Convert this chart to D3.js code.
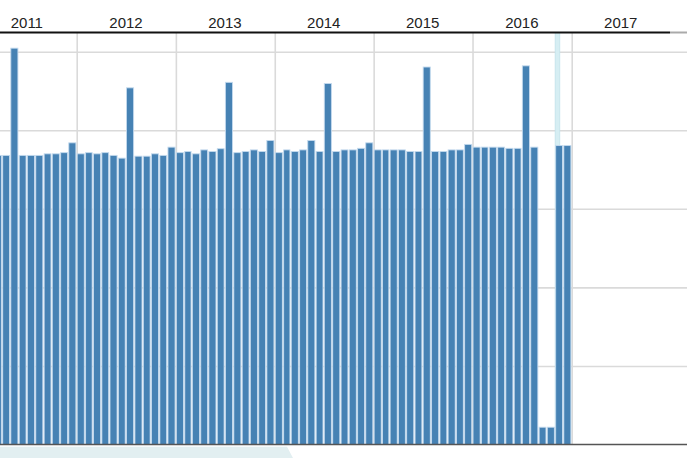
<!DOCTYPE html>
<html><head><meta charset="utf-8">
<script src="https://cdn.jsdelivr.net/npm/d3@7"></script>
<style>html,body{margin:0;padding:0;background:#fff;overflow:hidden}</style>
</head><body><svg id="c" width="687" height="458"></svg>
<script>
// ---- data ----
const months = [
  "2011-03","2011-04","2011-05","2011-06","2011-07","2011-08","2011-09","2011-10","2011-11","2011-12",
  "2012-01","2012-02","2012-03","2012-04","2012-05","2012-06","2012-07","2012-08","2012-09","2012-10","2012-11","2012-12",
  "2013-01","2013-02","2013-03","2013-04","2013-05","2013-06","2013-07","2013-08","2013-09","2013-10","2013-11","2013-12",
  "2014-01","2014-02","2014-03","2014-04","2014-05","2014-06","2014-07","2014-08","2014-09","2014-10","2014-11","2014-12",
  "2015-01","2015-02","2015-03","2015-04","2015-05","2015-06","2015-07","2015-08","2015-09","2015-10","2015-11","2015-12",
  "2016-01","2016-02","2016-03","2016-04","2016-05","2016-06","2016-07","2016-08","2016-09","2016-10","2016-11","2016-12"
];
const values = [
  73.6, 73.6, 100.9, 73.6, 73.6, 73.6, 74.0, 74.0, 74.3, 76.8,
  74.0, 74.3, 74.0, 74.3, 73.6, 72.9, 90.8, 73.4, 73.4, 74.0, 73.6, 75.7,
  74.3, 74.6, 74.0, 75.0, 74.6, 75.3, 92.2, 74.3, 74.6, 75.0, 74.6, 77.4,
  74.3, 75.0, 74.6, 75.0, 77.4, 74.6, 91.9, 74.6, 75.0, 75.0, 75.4, 76.8,
  75.0, 75.0, 75.0, 75.0, 74.6, 74.6, 96.1, 74.6, 74.6, 75.0, 75.0, 76.4,
  75.7, 75.7, 75.7, 75.7, 75.4, 75.4, 96.4, 75.7, 4.4, 4.4, 76.1, 76.1
];
const yearLabels = ["2011","2012","2013","2014","2015","2016","2017"];
const yTicks = [0, 20, 40, 60, 80, 100];
const highlightRange = ["2016-11-01", "2016-11-18"];

// ---- layout ----
const W = 687, H = 458;
const plotTop = 32.5, plotBottom = 444.5, plotRight = 670;
const parseMonth = d3.utcParse("%Y-%m");
const parseDay = d3.utcParse("%Y-%m-%d");

const x = d3.scaleUtc()
  .domain([new Date(Date.UTC(2012,0,1)), new Date(Date.UTC(2017,0,1))])
  .range([76.7, 571.7]);
const y = d3.scaleLinear().domain([0, 100]).range([plotBottom, 51.7]);

const svg = d3.select("#c");
const defs = svg.append("defs");
defs.append("clipPath").attr("id","clip").append("rect")
  .attr("x",0).attr("y",plotTop).attr("width",W).attr("height",plotBottom-plotTop);

// bottom navigator band
svg.append("path")
  .attr("d", `M0,446.7 L287,446.7 L293,${H} L0,${H} Z`)
  .attr("fill", "#e2eff1");

const g = svg.append("g").attr("clip-path","url(#clip)");

// horizontal grid
const yAxis = d3.axisLeft(y).tickValues(yTicks).tickSize(-W).tickFormat("");
g.append("g").call(yAxis)
  .call(s => s.select(".domain").remove())
  .call(s => s.selectAll("line").attr("stroke","#dadada").attr("stroke-width",1.6));

// vertical year grid
const years = d3.utcYear.range(new Date(Date.UTC(2011,0,1)), new Date(Date.UTC(2018,0,1)));
const xGrid = d3.axisBottom(x).tickValues(years.filter(d => x(d) < plotRight - 5)).tickSize(-(plotBottom-plotTop)).tickFormat("");
g.append("g").attr("transform",`translate(0,${plotBottom})`).call(xGrid)
  .call(s => s.select(".domain").remove())
  .call(s => s.selectAll("line").attr("stroke","#dadada").attr("stroke-width",1.6));

// highlight band
const h0 = parseDay(highlightRange[0]), h1 = parseDay(highlightRange[1]);
g.append("rect")
  .attr("x", x(h0)).attr("y", plotTop)
  .attr("width", x(h1) - x(h0)).attr("height", plotBottom - plotTop)
  .attr("fill", "#d6eef3").attr("stroke", "#c2e2ea").attr("stroke-width", 0.8);

// bars
const data = months.map((m, i) => ({ d: parseMonth(m), v: values[i] }));
g.selectAll("rect.bar").data(data).join("rect")
  .attr("class","bar")
  .attr("x", d => x(d.d) + 0.5)
  .attr("width", d => x(d3.utcMonth.offset(d.d, 1)) - x(d.d) - 1.3)
  .attr("y", d => y(d.v))
  .attr("height", d => plotBottom - y(d.v))
  .attr("fill", "#4682b4")
  .attr("stroke", "#c4daee")
  .attr("stroke-width", 0.9);

// axis lines
svg.append("line").attr("x1",0).attr("x2",plotRight).attr("y1",plotTop).attr("y2",plotTop)
  .attr("stroke","#111").attr("stroke-width",2);
svg.append("line").attr("x1",plotRight).attr("x2",W).attr("y1",plotTop).attr("y2",plotTop)
  .attr("stroke","#aaa").attr("stroke-width",2);
svg.append("line").attr("x1",0).attr("x2",W).attr("y1",plotBottom).attr("y2",plotBottom)
  .attr("stroke","#555").attr("stroke-width",1.6);

// year labels (top)
svg.append("g").selectAll("text").data(yearLabels).join("text")
  .attr("x", d => x(new Date(Date.UTC(+d, 6, 1))))
  .attr("y", 28)
  .attr("text-anchor","middle")
  .attr("font-family","'Liberation Sans', Arial, sans-serif")
  .attr("font-size", 15)
  .attr("fill","#222")
  .text(d => d);
</script>
</body></html>
